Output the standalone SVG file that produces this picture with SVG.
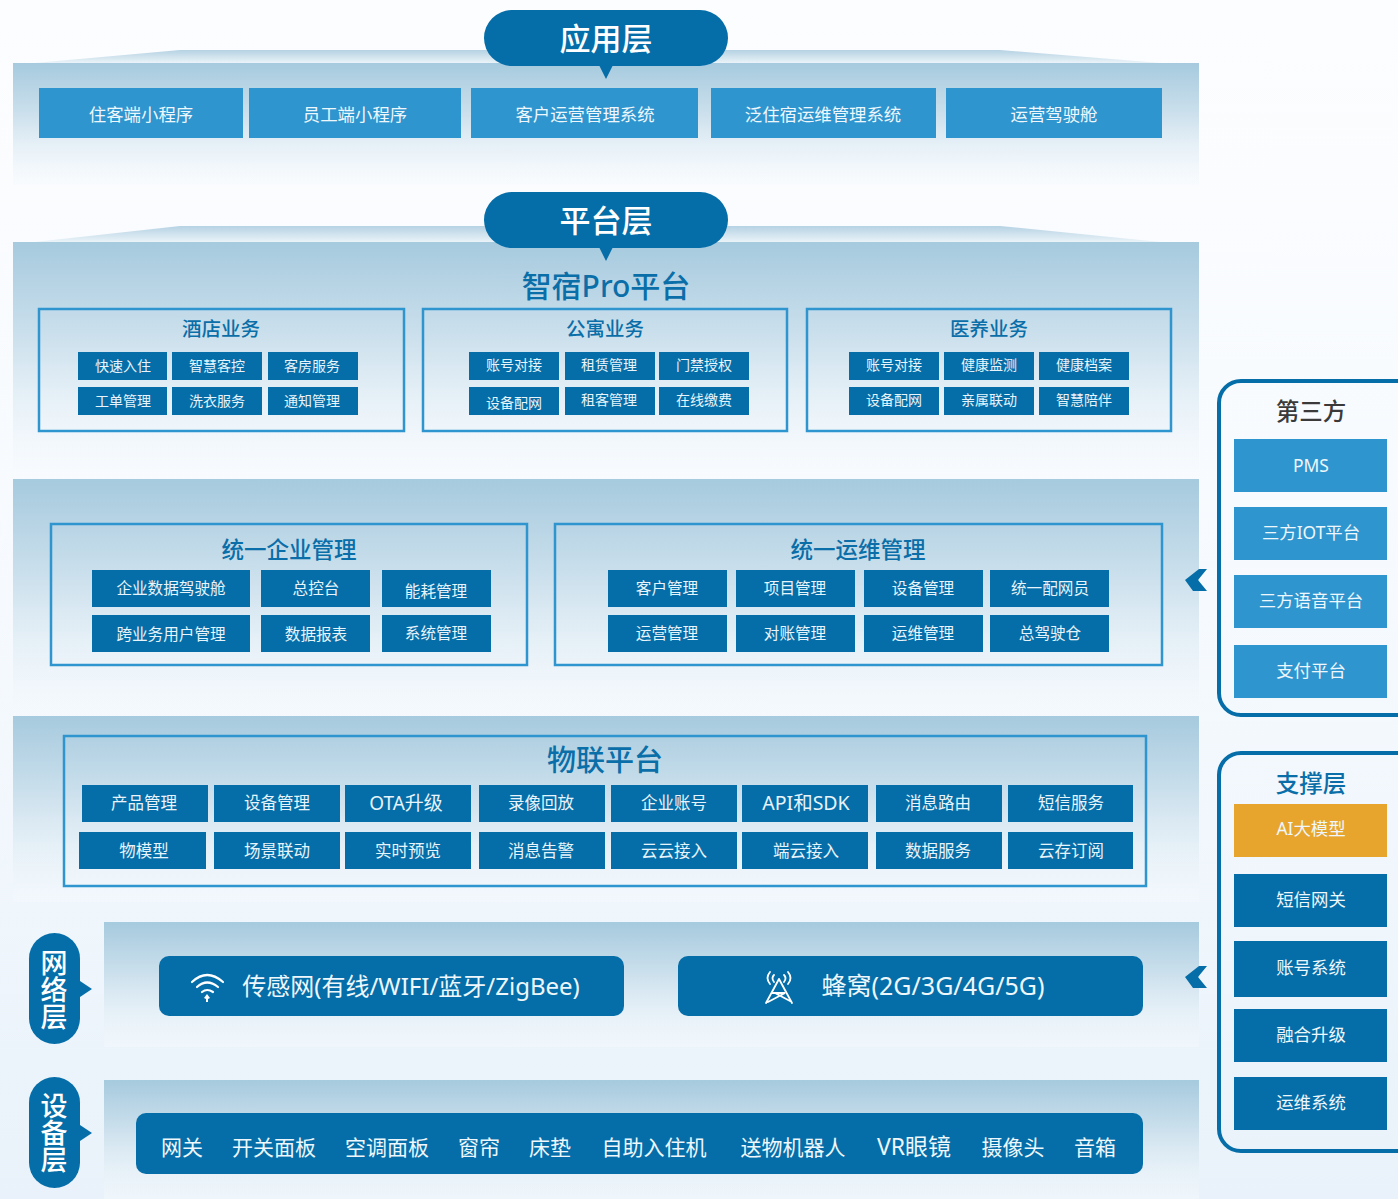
<svg xmlns="http://www.w3.org/2000/svg" width="1398" height="1199" viewBox="0 0 1398 1199">
<style>
text{font-family:"Noto Sans","Noto Sans CJK SC",sans-serif;text-anchor:middle}
.w{fill:#fff}
.l{fill:#2e95cf}
.d{fill:#056ea8}
.t{font-size:17.400px;fill:#eef7fc}
.s{font-size:14px;fill:#e8f4fb}
.m{font-size:15.600px;fill:#e8f4fb}
.h{fill:#0a6ea8;font-size:22.500px;font-weight:500}
.h2{fill:#0a6ea8;font-size:19.500px;font-weight:500}
.f{fill:none;stroke:#2e95cf;stroke-width:2.5}
.p{fill:url(#pg)}
.pill{font-size:31px;fill:#fff;font-weight:500}
.v{font-size:27px;fill:#fff;font-weight:500;writing-mode:vertical-rl;text-anchor:start}
.b{font-size:21px;fill:#eef7fc}
.side{fill:none;stroke:#056ea8;stroke-width:4}
.e{font-size:16.500px;fill:#e8f4fb}
</style>
<defs>
<linearGradient id="bg" x1="0" y1="0" x2="0" y2="1"><stop offset="0" stop-color="#fcfdff"/><stop offset="0.5" stop-color="#f6fafe"/><stop offset="1" stop-color="#e9f2fa"/></linearGradient>
<linearGradient id="pg" x1="0" y1="0" x2="0" y2="1"><stop offset="0" stop-color="#a6cade"/><stop offset="0.45" stop-color="#cfe2ee"/><stop offset="1" stop-color="#f6fafd" stop-opacity="0.4"/></linearGradient>
<linearGradient id="tg" x1="0" y1="0" x2="0" y2="1"><stop offset="0" stop-color="#b5d2e3"/><stop offset="1" stop-color="#eaf3f8"/></linearGradient>
</defs>
<rect width="1398" height="1199" fill="url(#bg)"/>

<g id="panels">
<rect class="p" x="13" y="63" width="1186" height="122"/>
<polygon points="35,63 180,50 1000,50 1160,63" fill="url(#tg)"/>
<rect class="p" x="13" y="242" width="1186" height="228"/>
<polygon points="35,242 180,226 1000,226 1160,242" fill="url(#tg)"/>
<rect class="p" x="13" y="479" width="1186" height="236"/>
<rect class="p" x="13" y="716" width="1186" height="186"/>
<rect class="p" x="104" y="922" width="1095" height="125"/>
<rect class="p" x="104" y="1080" width="1095" height="119"/>
</g>

<g id="app-layer">
<path class="d" d="M512,10H700A28,28 0 0 1 700,66H612.500L606,79L599.500,66H512A28,28 0 0 1 512,10Z"/>
<text class="pill" x="606" y="50">应用层</text>
<rect class="l" x="39" y="88" width="204" height="50"/><text class="t" x="141" y="121">住客端小程序</text>
<rect class="l" x="249" y="88" width="212" height="50"/><text class="t" x="355" y="121">员工端小程序</text>
<rect class="l" x="471" y="88" width="227" height="50"/><text class="t" x="585" y="121">客户运营管理系统</text>
<rect class="l" x="711" y="88" width="225" height="50"/><text class="t" x="823" y="121">泛住宿运维管理系统</text>
<rect class="l" x="946" y="88" width="216" height="50"/><text class="t" x="1054" y="121">运营驾驶舱</text>
</g>

<g id="platform-layer">
<path class="d" d="M512,192H700A28,28 0 0 1 700,248H612.500L606,261L599.500,248H512A28,28 0 0 1 512,192Z"/>
<text class="pill" x="606" y="232">平台层</text>
<text x="606" y="297" font-size="30" font-weight="500" fill="#0a6ea8">智宿Pro平台</text>
</g>

<g id="hotel">
<rect class="f" x="39" y="309" width="365" height="122"/>
<text class="h2" x="221" y="336">酒店业务</text>
<rect class="d" x="78" y="352" width="89" height="28"/><text class="s" x="123" y="371">快速入住</text>
<rect class="d" x="172" y="352" width="90" height="28"/><text class="s" x="217" y="371">智慧客控</text>
<rect class="d" x="268" y="352" width="90" height="28"/><text class="s" x="312" y="371">客房服务</text>
<rect class="d" x="78" y="387" width="89" height="28"/><text class="s" x="123" y="406">工单管理</text>
<rect class="d" x="172" y="387" width="90" height="28"/><text class="s" x="217" y="406">洗衣服务</text>
<rect class="d" x="268" y="387" width="90" height="28"/><text class="s" x="312" y="406">通知管理</text>
</g>
<g id="apartment">
<rect class="f" x="423" y="309" width="364" height="122"/>
<text class="h2" x="605" y="336">公寓业务</text>
<rect class="d" x="469" y="352" width="90" height="28"/><text class="s" x="514" y="370">账号对接</text>
<rect class="d" x="565" y="352" width="90" height="28"/><text class="s" x="609" y="370">租赁管理</text>
<rect class="d" x="659" y="352" width="90" height="28"/><text class="s" x="704" y="370">门禁授权</text>
<rect class="d" x="469" y="387" width="90" height="28"/><text class="s" x="514" y="408">设备配网</text>
<rect class="d" x="565" y="387" width="90" height="28"/><text class="s" x="609" y="405">租客管理</text>
<rect class="d" x="659" y="387" width="90" height="28"/><text class="s" x="704" y="405">在线缴费</text>
</g>
<g id="medical">
<rect class="f" x="807" y="309" width="364" height="122"/>
<text class="h2" x="989" y="336">医养业务</text>
<rect class="d" x="849" y="352" width="90" height="28"/><text class="s" x="894" y="370">账号对接</text>
<rect class="d" x="944" y="352" width="90" height="28"/><text class="s" x="989" y="370">健康监测</text>
<rect class="d" x="1039" y="352" width="90" height="28"/><text class="s" x="1084" y="370">健康档案</text>
<rect class="d" x="849" y="387" width="90" height="28"/><text class="s" x="894" y="405">设备配网</text>
<rect class="d" x="944" y="387" width="90" height="28"/><text class="s" x="989" y="405">亲属联动</text>
<rect class="d" x="1039" y="387" width="90" height="28"/><text class="s" x="1084" y="405">智慧陪伴</text>
</g>

<g id="enterprise">
<rect class="f" x="51" y="524" width="476" height="141"/>
<text class="h" x="289" y="558">统一企业管理</text>
<rect class="d" x="92" y="570" width="158" height="37"/><text class="m" x="171" y="594">企业数据驾驶舱</text>
<rect class="d" x="261" y="570" width="109" height="37"/><text class="m" x="316" y="594">总控台</text>
<rect class="d" x="382" y="570" width="109" height="37"/><text class="m" x="436" y="597">能耗管理</text>
<rect class="d" x="92" y="615" width="158" height="37"/><text class="m" x="171" y="640">跨业务用户管理</text>
<rect class="d" x="261" y="615" width="109" height="37"/><text class="m" x="316" y="640">数据报表</text>
<rect class="d" x="382" y="615" width="109" height="37"/><text class="m" x="436" y="639">系统管理</text>
</g>
<g id="ops">
<rect class="f" x="555" y="524" width="607" height="141"/>
<text class="h" x="858" y="558">统一运维管理</text>
<rect class="d" x="608" y="570" width="119" height="37"/><text class="m" x="667" y="594">客户管理</text>
<rect class="d" x="736" y="570" width="119" height="37"/><text class="m" x="795" y="594">项目管理</text>
<rect class="d" x="864" y="570" width="119" height="37"/><text class="m" x="923" y="594">设备管理</text>
<rect class="d" x="990" y="570" width="119" height="37"/><text class="m" x="1050" y="594">统一配网员</text>
<rect class="d" x="608" y="615" width="119" height="37"/><text class="m" x="667" y="639">运营管理</text>
<rect class="d" x="736" y="615" width="119" height="37"/><text class="m" x="795" y="639">对账管理</text>
<rect class="d" x="864" y="615" width="119" height="37"/><text class="m" x="923" y="639">运维管理</text>
<rect class="d" x="990" y="615" width="119" height="37"/><text class="m" x="1050" y="639">总驾驶仓</text>
</g>

<g id="iot">
<rect class="f" x="64" y="736" width="1082" height="150"/>
<text x="605" y="771" font-size="29" font-weight="500" fill="#0a6ea8">物联平台</text>
<rect class="d" x="82" y="785" width="126" height="37"/><text class="e" x="144" y="809">产品管理</text>
<rect class="d" x="214" y="785" width="126" height="37"/><text class="e" x="277" y="809">设备管理</text>
<rect class="d" x="345" y="785" width="126" height="37"/><text class="e" x="406" y="810" style="font-size:19px">OTA升级</text>
<rect class="d" x="479" y="785" width="126" height="37"/><text class="e" x="541" y="809">录像回放</text>
<rect class="d" x="611" y="785" width="126" height="37"/><text class="e" x="674" y="809">企业账号</text>
<rect class="d" x="742" y="785" width="126" height="37"/><text class="e" x="806" y="810" style="font-size:19.500px">API和SDK</text>
<rect class="d" x="876" y="785" width="126" height="37"/><text class="e" x="938" y="809">消息路由</text>
<rect class="d" x="1008" y="785" width="125" height="37"/><text class="e" x="1071" y="809">短信服务</text>
<rect class="d" x="79" y="832" width="127" height="37"/><text class="e" x="144" y="857">物模型</text>
<rect class="d" x="214" y="832" width="126" height="37"/><text class="e" x="277" y="857">场景联动</text>
<rect class="d" x="345" y="832" width="126" height="37"/><text class="e" x="408" y="857">实时预览</text>
<rect class="d" x="479" y="832" width="126" height="37"/><text class="e" x="541" y="857">消息告警</text>
<rect class="d" x="611" y="832" width="126" height="37"/><text class="e" x="674" y="857">云云接入</text>
<rect class="d" x="742" y="832" width="126" height="37"/><text class="e" x="806" y="857">端云接入</text>
<rect class="d" x="876" y="832" width="126" height="37"/><text class="e" x="938" y="857">数据服务</text>
<rect class="d" x="1008" y="832" width="125" height="37"/><text class="e" x="1071" y="857">云存订阅</text>
</g>

<g id="network-layer">
<rect class="d" x="29" y="933" width="51" height="111" rx="25.500"/>
<polygon class="d" points="80,981 92,989 80,997"/>
<text class="v" x="53" y="949">网络层</text>
<rect class="d" x="159" y="956" width="465" height="60" rx="10"/>
<g fill="none" stroke="#fff" stroke-width="2.200" stroke-linecap="round">
<path d="M192,982Q207,968 223,982"/><path d="M197,987Q207,978 218,987"/><path d="M202,992Q207,988 213,992"/>
</g>
<polygon points="207,994 210,998 208,999 208,1002 206,1002 206,999 204,998" fill="#fff"/>
<text x="411" y="995" font-size="24" fill="#eef7fc">传感网(有线/WIFI/蓝牙/ZigBee)</text>
<rect class="d" x="678" y="956" width="465" height="60" rx="10"/>
<g fill="none" stroke="#fff" stroke-width="1.800" stroke-linecap="round">
<path d="M779,979L766,1003M779,979L792,1003M772,993L785,993L768,1002M775,993L790,1001"/>
<path d="M770,972Q765,978 770,984M774,975Q771,978 774,982M788,972Q793,978 788,984M784,975Q787,978 784,982"/>
</g>
<text x="933" y="995" font-size="25" fill="#eef7fc">蜂窝(2G/3G/4G/5G)</text>
</g>

<g id="device-layer">
<rect class="d" x="29" y="1077" width="51" height="111" rx="25.500"/>
<polygon class="d" points="80,1125 92,1133 80,1141"/>
<text class="v" x="53" y="1092">设备层</text>
<rect class="d" x="136" y="1113" width="1007" height="61" rx="10"/>
<text class="b" x="182" y="1155">网关</text>
<text class="b" x="274" y="1155">开关面板</text>
<text class="b" x="387" y="1155">空调面板</text>
<text class="b" x="479" y="1155">窗帘</text>
<text class="b" x="550" y="1155">床垫</text>
<text class="b" x="654" y="1155">自助入住机</text>
<text class="b" x="793" y="1155">送物机器人</text>
<text class="b" x="914" y="1155" style="font-size:23px">VR眼镜</text>
<text class="b" x="1013" y="1155">摄像头</text>
<text class="b" x="1095" y="1155">音箱</text>
</g>

<g id="third-party">
<path class="side" d="M1398,381H1241A22,22 0 0 0 1219,403V693A22,22 0 0 0 1241,715H1398"/>
<text x="1311" y="420" font-size="23.500" font-weight="500" fill="#3a3a3a">第三方</text>
<rect class="l" x="1234" y="439" width="153" height="53"/><text class="t" x="1311" y="472">PMS</text>
<rect class="l" x="1234" y="507" width="153" height="53"/><text class="t" x="1311" y="539">三方IOT平台</text>
<rect class="l" x="1234" y="575" width="153" height="53"/><text class="t" x="1311" y="607">三方语音平台</text>
<rect class="l" x="1234" y="645" width="153" height="53"/><text class="t" x="1311" y="677">支付平台</text>
</g>

<g id="support">
<path class="side" d="M1398,753H1241A22,22 0 0 0 1219,775V1129A22,22 0 0 0 1241,1151H1398"/>
<text x="1311" y="792" font-size="23.500" font-weight="500" fill="#0a6ea8">支撑层</text>
<rect x="1234" y="804" width="153" height="53" fill="#e8a52e"/><text class="t" x="1311" y="835">AI大模型</text>
<rect class="d" x="1234" y="874" width="153" height="53"/><text class="t" x="1311" y="906">短信网关</text>
<rect class="d" x="1234" y="941" width="153" height="56"/><text class="t" x="1311" y="974">账号系统</text>
<rect class="d" x="1234" y="1009" width="153" height="53"/><text class="t" x="1311" y="1041">融合升级</text>
<rect class="d" x="1234" y="1077" width="153" height="53"/><text class="t" x="1311" y="1109">运维系统</text>
</g>

<g id="connectors">
<polygon class="d" points="1199,569 1207,569 1198,580 1207,591 1193,591 1185,580"/>
<polygon class="d" points="1199,966 1207,966 1198,977 1207,988 1193,988 1185,977"/>
</g>
</svg>
